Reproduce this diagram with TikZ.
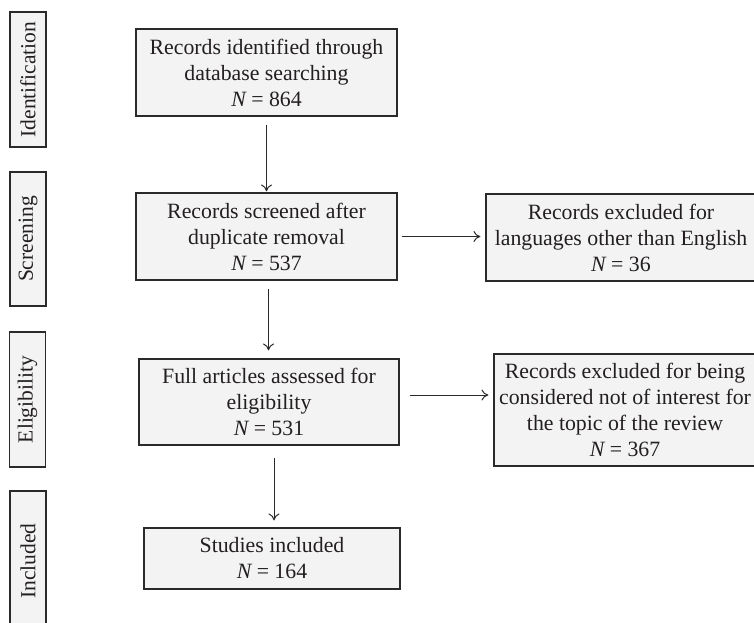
\documentclass[tikz,border=0pt]{standalone}
\usepackage{fontspec}
\setmainfont{Liberation Serif}
\usetikzlibrary{arrows.meta,calc}
\definecolor{boxfill}{HTML}{F3F3F3}
\definecolor{boxline}{HTML}{2A2A2A}
\definecolor{txt}{HTML}{231F20}
\begin{document}
\begin{tikzpicture}[x=1pt,y=-1pt,
  font=\fontsize{21.8}{26}\selectfont,
  box/.style={draw=boxline, fill=boxfill, line width=1.2pt, align=center, inner sep=0pt, text=txt},
  side/.style={box, rotate=90, minimum height=36pt, font=\fontsize{21.5}{26}\selectfont},
  arr/.style={-{To[length=7pt,width=11pt]}, line width=1pt, draw=boxline}]
\useasboundingbox (0,0) rectangle (754,622);
\begin{scope}
\clip (0,0) rectangle (754,622);
% side labels
\node[side, minimum width=135pt] (id) at (28,79.5) {Identification};
\node[side, minimum width=134pt] (sc) at (28,239) {Screening};
\node[side, minimum width=135pt] (el) at (27.5,399.5) {Eligibility};
\node[side, minimum width=140pt] (in) at (28,561) {Included};
% main boxes
\node[box, minimum width=261pt, minimum height=87pt] (A) at (266.5,72.5)
  {Records identified through\\ database searching\\ {\itshape N} = 864};
\node[box, minimum width=261pt, minimum height=87pt] (B) at (266.5,236.5)
  {Records screened after\\ duplicate removal\\ {\itshape N} = 537};
\node[box, minimum width=260pt, minimum height=86pt] (C) at (269,402)
  {Full articles assessed for\\ eligibility\\ {\itshape N} = 531};
\node[box, minimum width=256pt, minimum height=61pt] (D) at (272,558.5)
  {Studies included\\ {\itshape N} = 164};
% right boxes
\node[box, minimum width=270pt, minimum height=87pt] (R1) at (621,237.5)
  {Records excluded for\\ languages other than English\\ {\itshape N} = 36};
\node[box, minimum width=262pt, minimum height=112pt] (R2) at (625,410)
  {Records excluded for being\\ considered not of interest for\\ the topic of the review\\ {\itshape N} = 367};
\end{scope}
% connectors
\draw[arr, shorten <=8pt, shorten >=1pt] (A.south) -- (A.south |- B.north);
\draw[arr, shorten <=8pt, shorten >=8pt] ([xshift=2pt]B.south) -- ([xshift=2pt]B.south |- C.north);
\draw[arr, shorten <=12pt, shorten >=7pt] ([xshift=5pt]C.south) -- ([xshift=5pt]C.south |- D.north);
\draw[arr, shorten <=4pt, shorten >=5pt] (B.east) -- (B.east -| R1.west);
\draw[arr, shorten <=10pt, shorten >=5pt] ([yshift=7pt]C.east) -- ([yshift=7pt]C.east -| R2.west);
\end{tikzpicture}
\end{document}
